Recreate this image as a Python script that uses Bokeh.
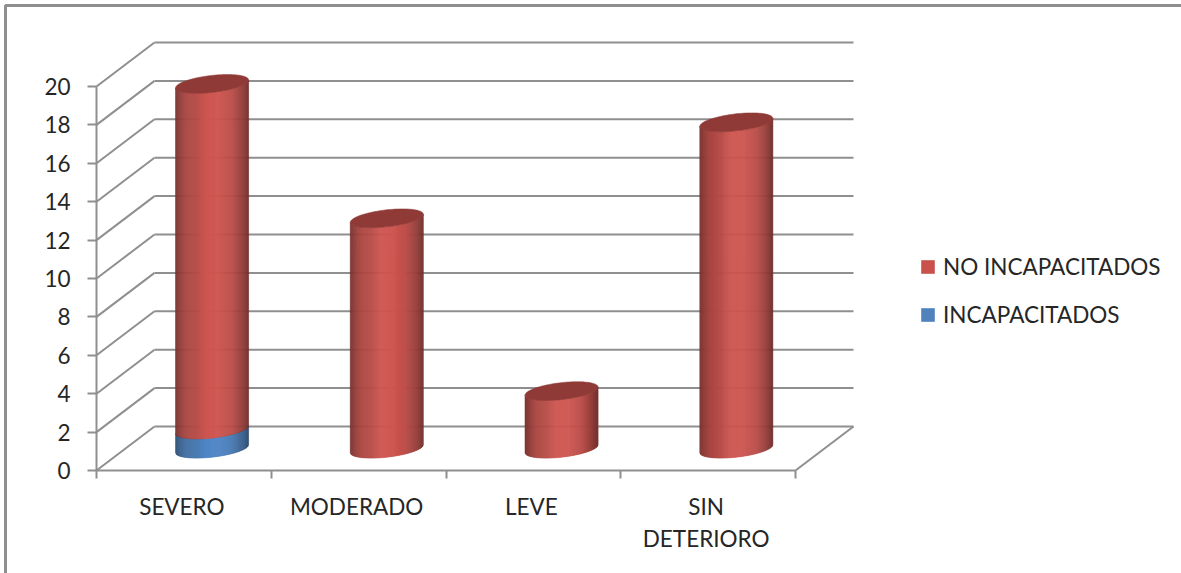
import numpy as np
from bokeh.embed import file_html
from bokeh.models import FixedTicker, Legend, LegendItem, Range1d
from bokeh.plotting import ColumnDataSource, figure
from bokeh.resources import INLINE

categories = ["SEVERO", "MODERADO", "LEVE", "SIN\nDETERIORO"]
incapacitados = [1, 0, 0, 0]
no_incapacitados = [18, 12, 3, 17]
y_ticks = list(range(0, 21, 2))

WIDTH, HEIGHT = 1181, 573
# Plot box: pixels per category / per value unit, and where the origin sits.
PX_X, PX_Y = 174.75, 19.2
ORIGIN_X, ORIGIN_Y = 96, 470
# Depth of the oblique floor and of the cylinders, in axis units.
DEPTH_X, DEPTH_Y = 58 / PX_X, 44 / PX_Y
BAR_HALF = 36.5 / PX_X
BAR_SHIFT_X, BAR_SHIFT_Y = -0.8 / PX_X, -0.2 / PX_Y
LABEL_SHIFT = -2 / PX_X
TILT, CAP_B = 4 / PX_Y, 8.5 / PX_Y
GRID = "#8f8f8f"
TEXT = "#262626"
FONT = "Lato"
FONT_SIZE = "22.5px"

RED = np.array([206, 86, 81])
BLUE = np.array([80, 135, 198])
CAP_RED = "#8f3a36"
CAP_BLUE = "#3f6c9f"
SHADE_T = [0, .05, .14, .30, .42, .60, .78, .92, 1]
SHADE_V = [.58, .68, .82, .90, 1.0, 1.0, .90, .72, .55]

p = figure(
    width=WIDTH, height=HEIGHT, output_backend="svg", toolbar_location=None,
    x_range=Range1d(-ORIGIN_X / PX_X, (WIDTH - ORIGIN_X) / PX_X),
    y_range=Range1d((ORIGIN_Y - HEIGHT) / PX_Y, ORIGIN_Y / PX_Y),
    min_border=0, outline_line_color=None, background_fill_color="white",
)
p.grid.visible = False


def page_x(px):
    return (px - ORIGIN_X) / PX_X


def page_y(py):
    return (ORIGIN_Y - py) / PX_Y


# Chart area frame, open towards the right and bottom edges.
p.line([page_x(5), page_x(5), page_x(WIDTH)], [page_y(HEIGHT), page_y(5), page_y(5)],
       line_color=GRID, line_width=3)

# Oblique walls: back gridlines and the left wall diagonals.
n_cat = len(categories)
back_left, back_right = DEPTH_X, n_cat + DEPTH_X
tick_vals = np.array(y_ticks, dtype=float)
p.segment(x0=back_left, x1=back_right, y0=tick_vals + DEPTH_Y, y1=tick_vals + DEPTH_Y,
          line_color=GRID, line_width=2)
p.segment(x0=0, x1=back_left, y0=tick_vals, y1=tick_vals + DEPTH_Y,
          line_color=GRID, line_width=2)
# Right edge of the floor.
p.segment(x0=[n_cat], x1=[back_right], y0=[0], y1=[DEPTH_Y], line_color=GRID, line_width=2)


def shade(base, t):
    k = np.interp(t, SHADE_T, SHADE_V)
    r, g, b = (base * k).astype(int)
    return f"#{r:02x}{g:02x}{b:02x}"


def front_edge(u):
    # Lower, visible half of the tilted ellipse at horizontal position u in [-1, 1].
    return TILT * u - CAP_B * np.sqrt(np.clip(1 - u * u, 0, 1))


def draw_cylinder(i, low, high, base, cap_color=None):
    cx = i + 0.5 + DEPTH_X / 2 + BAR_SHIFT_X
    base_level = DEPTH_Y / 2 + BAR_SHIFT_Y
    n = 72
    edges = np.linspace(-1, 1, n + 1)
    xs, ys, colors = [], [], []
    for a, b in zip(edges[:-1], edges[1:]):
        us = np.linspace(a, b, 4)
        xs.append(list(cx + us * BAR_HALF) + list(cx + us[::-1] * BAR_HALF))
        ys.append(list(base_level + low + front_edge(us))
                  + list(base_level + high + front_edge(us[::-1])))
        colors.append(shade(base, (a + b + 2) / 4))
    p.patches(xs, ys, fill_color=colors, line_color=colors, line_width=0.6)
    if cap_color:
        t = np.linspace(0, 2 * np.pi, 100)
        u = np.cos(t)
        p.patch(cx + u * BAR_HALF,
                base_level + high + TILT * u + CAP_B * np.sin(t),
                fill_color=cap_color, line_color=cap_color, line_width=0.5)


for i in range(n_cat):
    if incapacitados[i]:
        draw_cylinder(i, 0, incapacitados[i], BLUE, None if no_incapacitados[i] else CAP_BLUE)
    if no_incapacitados[i]:
        draw_cylinder(i, incapacitados[i], incapacitados[i] + no_incapacitados[i], RED, CAP_RED)

# Axes sit on the front edges of the plot box.
yaxis = p.yaxis[0]
yaxis.fixed_location = 0
yaxis.bounds = (0, 20)
yaxis.ticker = FixedTicker(ticks=y_ticks)
yaxis.axis_line_color = GRID
yaxis.axis_line_width = 2
yaxis.major_tick_line_color = GRID
yaxis.major_tick_line_width = 2
yaxis.major_tick_out = 9
yaxis.major_tick_in = 0
yaxis.minor_tick_line_color = None
yaxis.major_label_standoff = 17
yaxis.major_label_text_font = FONT
yaxis.major_label_text_font_size = FONT_SIZE
yaxis.major_label_text_color = TEXT

xaxis = p.xaxis[0]
xaxis.fixed_location = 0
xaxis.bounds = (0, n_cat)
centers = [i + 0.5 + LABEL_SHIFT for i in range(n_cat)]
xaxis.ticker = FixedTicker(ticks=centers, minor_ticks=list(range(n_cat + 1)))
xaxis.major_label_overrides = dict(zip(centers, categories))
xaxis.axis_line_color = GRID
xaxis.axis_line_width = 2
xaxis.major_tick_line_color = None
xaxis.major_tick_out = 0
xaxis.major_tick_in = 0
xaxis.minor_tick_line_color = GRID
xaxis.minor_tick_line_width = 2
xaxis.minor_tick_out = 8
xaxis.minor_tick_in = 0
xaxis.major_label_standoff = 14
xaxis.major_label_text_font = FONT
xaxis.major_label_text_font_size = FONT_SIZE
xaxis.major_label_text_color = TEXT

# Legend swatches come from placeholder area glyphs in the flat series colours.
nothing = ColumnDataSource(dict(left=[np.nan], right=[np.nan], top=[np.nan], bottom=[np.nan]))
swatch_red = p.quad(left="left", right="right", top="top", bottom="bottom", source=nothing,
                    fill_color="#c9514c", line_color=None)
swatch_blue = p.quad(left="left", right="right", top="top", bottom="bottom", source=nothing,
                     fill_color="#4f81bd", line_color=None)
legend = Legend(
    items=[LegendItem(label="NO INCAPACITADOS", renderers=[swatch_red]),
           LegendItem(label="INCAPACITADOS", renderers=[swatch_blue])],
    location=(919, HEIGHT - 328), orientation="vertical",
    border_line_color=None, background_fill_color=None, background_fill_alpha=0,
    margin=0, padding=0, spacing=21, glyph_width=17, glyph_height=17, label_height=24,
    label_standoff=7, label_text_font=FONT, label_text_font_size=FONT_SIZE, label_text_color=TEXT,
)
p.add_layout(legend, "center")

open("out.html", "w").write(file_html(p, INLINE))
